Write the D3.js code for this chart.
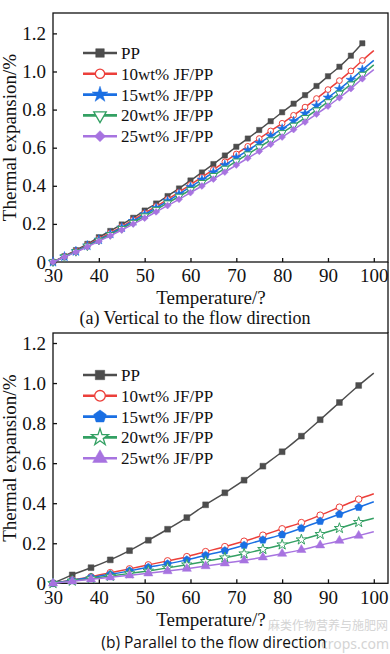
<!DOCTYPE html>
<html>

<head>
    <title>Thermal expansion of JF/PP composites</title>
    <script src="https://cdnjs.cloudflare.com/ajax/libs/d3/7.8.5/d3.min.js"></script>
    <style>
        body { margin: 0; background: #fff; }
        svg text { font-family: "Liberation Serif", "Times New Roman", serif; fill: #111; }
        .axis path, .axis line { stroke: #111; stroke-width: 1.3; }
    </style>
</head>

<body>
    <div id="chart"></div>
    <script>
        // series names (legend order)
        const seriesNames = ["PP", "10wt% JF/PP", "15wt% JF/PP", "20wt% JF/PP", "25wt% JF/PP"];
        const xTicks = [30, 40, 50, 60, 70, 80, 90, 100];
        const yTicks = [0, 0.2, 0.4, 0.6, 0.8, 1.0, 1.2];

        // (a) vertical to the flow direction, temperature in degrees
        const tempsA = [30, 32.5, 35, 37.5, 40, 42.5, 45, 47.5, 50, 52.5, 55, 57.5, 60, 62.5, 65,
            67.5, 70, 72.5, 75, 77.5, 80, 82.5, 85, 87.5, 90, 92.5, 95, 97.5, 100];
        const ppA = [0, 0.03, 0.062, 0.095, 0.13, 0.163, 0.197, 0.232, 0.27, 0.307, 0.346, 0.386, 0.428, 0.47,
            0.514, 0.559, 0.605, 0.648, 0.693, 0.739, 0.786, 0.831, 0.876, 0.924, 0.975, 1.025, 1.083, 1.148];
        const jf10A = [0, 0.029, 0.058, 0.089, 0.121, 0.153, 0.186, 0.221, 0.257, 0.292, 0.329, 0.367, 0.406, 0.445,
            0.485, 0.526, 0.567, 0.607, 0.648, 0.688, 0.728, 0.77, 0.813, 0.858, 0.905, 0.952, 1.003, 1.058, 1.11];
        const jf15A = [0, 0.028, 0.056, 0.086, 0.117, 0.148, 0.181, 0.215, 0.25, 0.284, 0.32, 0.357, 0.394, 0.432,
            0.47, 0.509, 0.548, 0.586, 0.624, 0.661, 0.699, 0.739, 0.779, 0.82, 0.863, 0.908, 0.956, 1.008, 1.058];
        const jf20A = [0, 0.027, 0.054, 0.083, 0.113, 0.143, 0.175, 0.207, 0.241, 0.275, 0.309, 0.344, 0.379, 0.416,
            0.453, 0.491, 0.529, 0.566, 0.603, 0.64, 0.678, 0.717, 0.757, 0.797, 0.84, 0.885, 0.933, 0.984, 1.035];
        const jf25A = [0, 0.026, 0.052, 0.08, 0.109, 0.138, 0.168, 0.199, 0.23, 0.263, 0.296, 0.329, 0.364, 0.399,
            0.435, 0.472, 0.509, 0.545, 0.581, 0.618, 0.656, 0.695, 0.735, 0.776, 0.818, 0.862, 0.91, 0.962, 1.01];

        // (b) parallel to the flow direction
        const tempsB = [30, 34.2, 38.3, 42.5, 46.7, 50.8, 55, 59.2, 63.3, 67.5, 71.7, 75.8, 80, 84.2, 88.3, 92.5, 96.7, 100];
        const ppB = [0, 0.042, 0.078, 0.117, 0.163, 0.215, 0.27, 0.328, 0.392, 0.452, 0.515, 0.585, 0.657, 0.735,
            0.817, 0.903, 0.988, 1.05];
        const jf10B = [0, 0.017, 0.033, 0.053, 0.072, 0.092, 0.112, 0.133, 0.158, 0.183, 0.21, 0.24, 0.272, 0.303,
            0.34, 0.38, 0.42, 0.447];
        const jf15B = [0, 0.015, 0.03, 0.045, 0.062, 0.08, 0.097, 0.117, 0.14, 0.163, 0.19, 0.217, 0.243, 0.275,
            0.31, 0.345, 0.38, 0.407];
        const jf20B = [0, 0.012, 0.024, 0.036, 0.049, 0.062, 0.077, 0.093, 0.11, 0.128, 0.148, 0.17, 0.193, 0.218,
            0.245, 0.275, 0.305, 0.325];
        const jf25B = [0, 0.01, 0.02, 0.03, 0.04, 0.05, 0.061, 0.073, 0.086, 0.1, 0.114, 0.13, 0.148, 0.167,
            0.19, 0.213, 0.238, 0.258];

        const colors = ["#4d4d4d", "#ec3f3a", "#1a6fe3", "#33a063", "#a773e0"];

        // pentagon marker (not a built-in d3 symbol)
        const symbolPentagon = {
            draw(ctx, size) {
                const r = Math.sqrt(size / 2.378);
                for (let i = 0; i < 5; i++) {
                    const a = -Math.PI / 2 + i * 2 * Math.PI / 5;
                    if (i === 0) ctx.moveTo(r * Math.cos(a), r * Math.sin(a));
                    else ctx.lineTo(r * Math.cos(a), r * Math.sin(a));
                }
                ctx.closePath();
            }
        };
        const diamond = d3.symbolDiamond2 || d3.symbolDiamond;

        const svg = d3.select("#chart").append("svg")
            .attr("width", 390)
            .attr("height", 654);

        function drawPanel(cfg) {
            const x = d3.scaleLinear().domain([30, 103.1]).range([53, 388]);
            const y = d3.scaleLinear().domain([0, cfg.yMax]).range([cfg.bottom, cfg.top]);
            const g = svg.append("g");

            // frame
            g.append("rect")
                .attr("x", x(30)).attr("y", y(cfg.yMax))
                .attr("width", x(103.1) - x(30)).attr("height", y(0) - y(cfg.yMax))
                .attr("fill", "none").attr("stroke", "#111").attr("stroke-width", 1.3);

            g.append("g").attr("class", "axis")
                .attr("transform", `translate(0,${y(0)})`)
                .call(d3.axisBottom(x).tickValues(xTicks).tickSize(-4).tickPadding(7).tickFormat(d3.format("d")))
                .call(s => s.select(".domain").remove())
                .selectAll("text").attr("font-size", 19).attr("fill", "#111");

            g.append("g").attr("class", "axis")
                .attr("transform", `translate(${x(30)},0)`)
                .call(d3.axisLeft(y).tickValues(yTicks).tickSize(-4).tickPadding(7)
                    .tickFormat(d => d === 0 ? "0" : d3.format(".1f")(d)))
                .call(s => s.select(".domain").remove())
                .selectAll("text").attr("font-size", 19).attr("fill", "#111");

            // axis titles
            g.append("text")
                .attr("x", 211).attr("y", cfg.xTitleY)
                .attr("text-anchor", "middle").attr("font-size", 19)
                .text("Temperature/?");
            g.append("text")
                .attr("transform", `translate(16,${(cfg.top + cfg.bottom) / 2}) rotate(-90)`)
                .attr("text-anchor", "middle").attr("font-size", 19)
                .text("Thermal expansion/%");

            const line = d3.line()
                .x(d => x(d[0])).y(d => y(d[1]))
                .curve(d3.curveMonotoneX);

            cfg.series.forEach((vals, i) => {
                const pts = vals.map((v, k) => [cfg.temps[k], v]);
                g.append("path")
                    .attr("d", line(pts))
                    .attr("fill", "none")
                    .attr("stroke", colors[i])
                    .attr("stroke-width", 1.5);
                const sym = d3.symbol().type(cfg.symbols[i].type).size(cfg.symbols[i].size);
                g.selectAll(null)
                    .data(pts.filter(p => p[0] < 99))
                    .enter().append("path")
                    .attr("d", sym)
                    .attr("transform", p => `translate(${x(p[0])},${y(p[1])}) rotate(${cfg.symbols[i].rot || 0})`)
                    .attr("fill", cfg.symbols[i].open ? "#fff" : colors[i])
                    .attr("stroke", colors[i])
                    .attr("stroke-width", cfg.symbols[i].open ? 1 : 0.5);
            });

            // legend
            const leg = g.append("g");
            seriesNames.forEach((name, i) => {
                const ly = cfg.legendY + i * 20.8;
                leg.append("line")
                    .attr("x1", 83).attr("x2", 117).attr("y1", ly).attr("y2", ly)
                    .attr("stroke", colors[i]).attr("stroke-width", 2.6);
                const s = cfg.symbols[i];
                leg.append("path")
                    .attr("d", d3.symbol().type(s.type).size(s.size * 2.6))
                    .attr("transform", `translate(100,${ly}) rotate(${s.rot || 0})`)
                    .attr("fill", s.open ? "#fff" : colors[i])
                    .attr("stroke", colors[i])
                    .attr("stroke-width", s.open ? 1.3 : 0.5);
                leg.append("text")
                    .attr("x", 121).attr("y", ly + 6)
                    .attr("font-size", 17)
                    .text(name);
            });
        }

        drawPanel({
            top: 13, bottom: 262, yMax: 1.307, temps: tempsA,
            series: [ppA, jf10A, jf15A, jf20A, jf25A],
            symbols: [
                { type: d3.symbolSquare, size: 28 },
                { type: d3.symbolCircle, size: 26, open: true },
                { type: d3.symbolStar, size: 30 },
                { type: d3.symbolTriangle, size: 26, open: true, rot: 180 },
                { type: diamond, size: 30 }
            ],
            legendY: 53, xTitleY: 304
        });

        drawPanel({
            top: 333, bottom: 583.3, yMax: 1.25, temps: tempsB,
            series: [ppB, jf10B, jf15B, jf20B, jf25B],
            symbols: [
                { type: d3.symbolSquare, size: 34 },
                { type: d3.symbolCircle, size: 34, open: true },
                { type: symbolPentagon, size: 40 },
                { type: d3.symbolStar, size: 34, open: true },
                { type: d3.symbolTriangle, size: 36 }
            ],
            legendY: 375, xTitleY: 626
        });

        // right edge joining the two panels
        svg.append("line")
            .attr("x1", 388).attr("x2", 388).attr("y1", 262).attr("y2", 333)
            .attr("stroke", "#111").attr("stroke-width", 1.3);

        // watermark
        svg.append("text")
            .attr("x", 268).attr("y", 630)
            .style("font-family", "'Noto Sans CJK SC'").attr("font-size", 12)
            .style("fill", "#d4d4d4")
            .text("麻类作物营养与施肥网");
        svg.append("text")
            .attr("x", 389).attr("y", 649).attr("text-anchor", "end")
            .style("font-family", "'Noto Sans'").attr("font-size", 14)
            .style("fill", "#d4d4d4")
            .text("crops.com");

        // captions
        svg.append("text")
            .attr("x", 195).attr("y", 324).attr("text-anchor", "middle")
            .attr("font-size", 18)
            .text("(a) Vertical to the flow direction");
        svg.append("text")
            .attr("x", 214).attr("y", 648).attr("text-anchor", "middle")
            .style("font-family", "'Open Sans'").attr("font-size", 15.5)
            .text("(b) Parallel to the flow direction");
    </script>
</body>

</html>
